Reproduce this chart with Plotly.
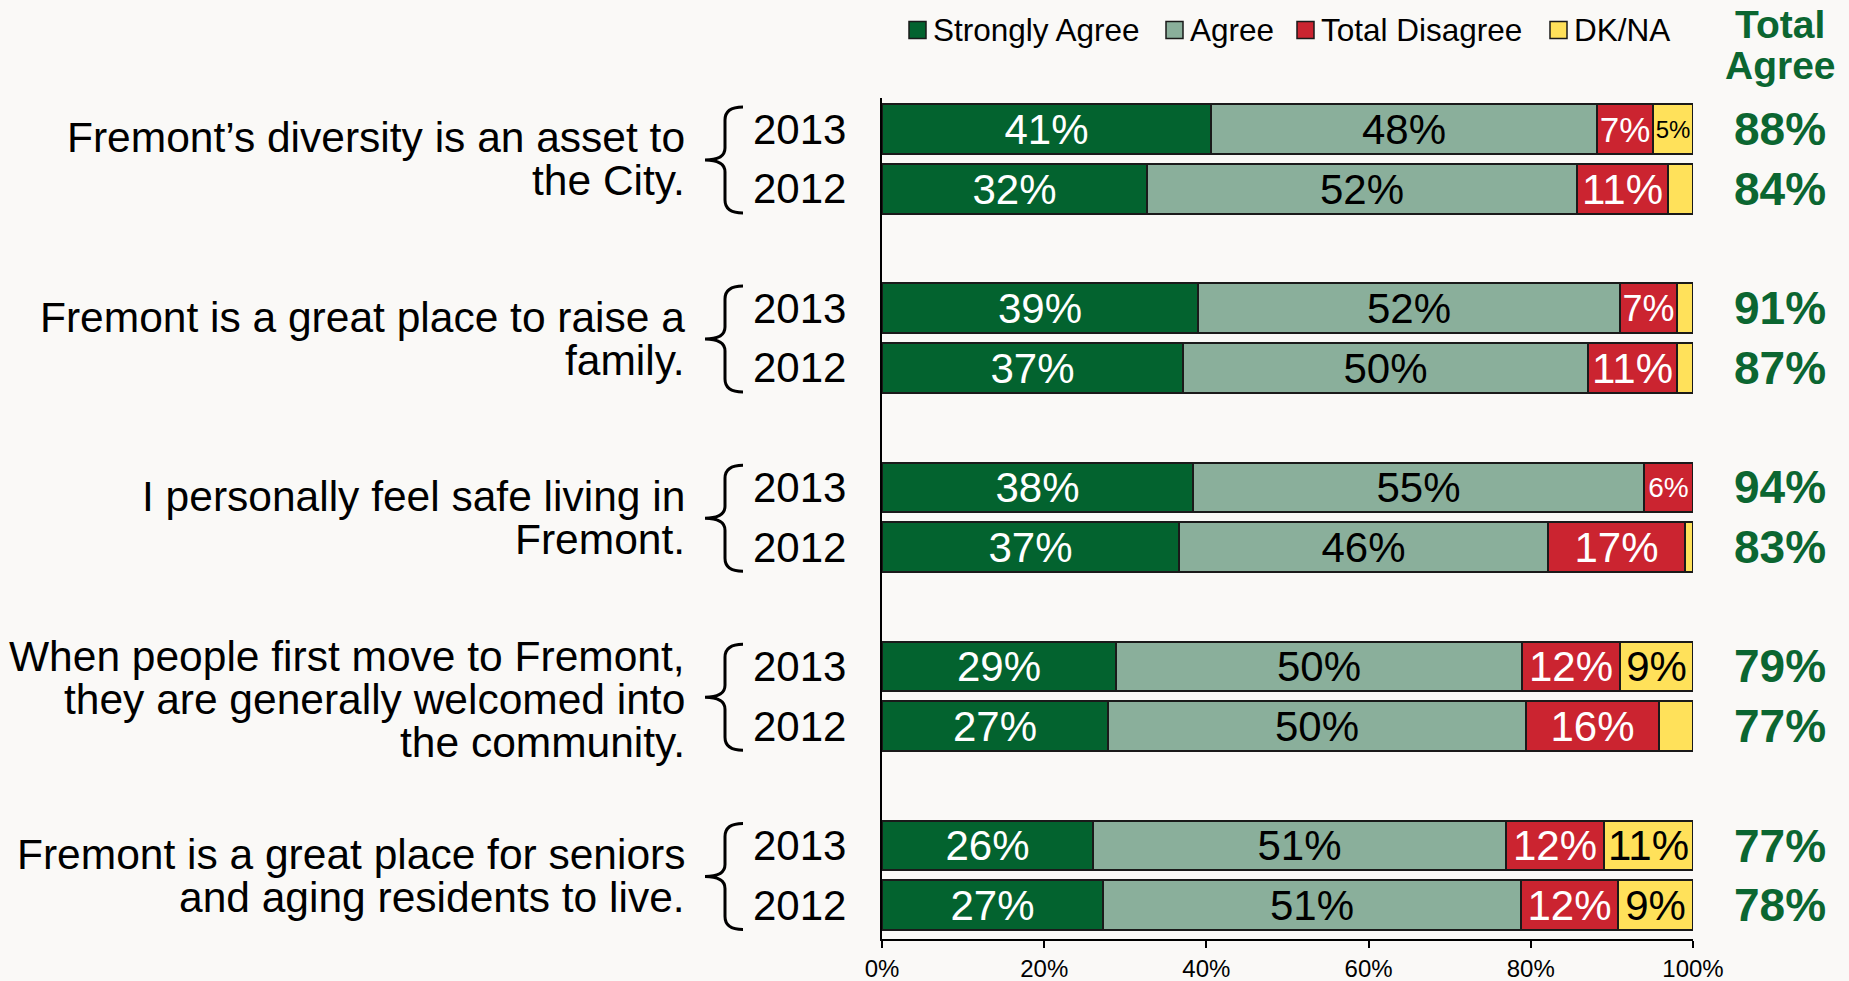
import plotly.graph_objects as go

# ---------------- data ----------------
questions = [
    ["Fremont’s diversity is an asset to", "the City."],
    ["Fremont is a great place to raise a", "family."],
    ["I personally feel safe living in", "Fremont."],
    ["When people first move to Fremont,", "they are generally welcomed into", "the community."],
    ["Fremont is a great place for seniors", "and aging residents to live."],
]
years = ["2013", "2012"]

strongly_agree = [40.6, 32.7, 39.0, 37.1, 38.4, 36.6, 28.9, 27.9, 26.0, 27.2]
agree = [47.6, 53.0, 52.0, 50.0, 55.5, 45.5, 50.0, 51.5, 50.9, 51.6]
total_disagree = [6.9, 11.2, 7.0, 10.9, 6.1, 16.9, 12.1, 16.4, 12.1, 12.0]
dk_na = [4.9, 3.1, 2.0, 2.0, 0.0, 1.0, 9.0, 4.2, 11.0, 9.2]

sa_labels = ["41%", "32%", "39%", "37%", "38%", "37%", "29%", "27%", "26%", "27%"]
agree_labels = ["48%", "52%", "52%", "50%", "55%", "46%", "50%", "50%", "51%", "51%"]
disagree_labels = ["7%", "11%", "7%", "11%", "6%", "17%", "12%", "16%", "12%", "12%"]
dk_labels = ["5%", "", "", "", "", "", "9%", "", "11%", "9%"]
total_agree = ["88%", "84%", "91%", "87%", "94%", "83%", "79%", "77%", "77%", "78%"]

series_names = ["Strongly Agree", "Agree", "Total Disagree", "DK/NA"]
tick_vals = [0, 20, 40, 60, 80, 100]
tick_text = ["0%", "20%", "40%", "60%", "80%", "100%"]

# ---------------- styling / layout ----------------
W, H = 1849, 981
L, R, T, B = 882, 156, 98, 42
Y_RANGE = [13.565, -0.52]
X_RANGE = [0, 100.002]
FONT = "Liberation Sans"
BG = "#faf9f7"
COLORS = ["#03632f", "#8aaf9b", "#cb2430", "#ffe15a"]
TEXT_COLORS = ["white", "black", "white", "black"]
GREEN_TXT = "#0b6631"

n_rows = len(strongly_agree)
y_pos = [3 * (i // 2) + (i % 2) for i in range(n_rows)]
row_years = [years[i % 2] for i in range(n_rows)]

label_sizes = [
    [42] * n_rows,
    [42] * n_rows,
    [35, 42, 36, 42, 28, 42, 42, 42, 42, 42],
    [24, 42, 42, 42, 42, 42, 42, 42, 42, 42],
]

def paper_x(px):
    return (px - L) / (W - L - R)

def paper_y(py):
    return 1 - (py - T) / (H - T - B)

def pix_y(yv):
    return T + (yv - Y_RANGE[1]) / (Y_RANGE[0] - Y_RANGE[1]) * (H - T - B)

fig = go.Figure()
for k, (vals, labs) in enumerate(zip(
        [strongly_agree, agree, total_disagree, dk_na],
        [sa_labels, agree_labels, disagree_labels, dk_labels])):
    fig.add_trace(go.Bar(
        x=vals, y=y_pos, orientation="h", name=series_names[k],
        width=0.83,
        marker=dict(color=COLORS[k], line=dict(color="#1a1a1a", width=2)),
        text=labs, textposition="inside", insidetextanchor="middle",
        textangle=0, constraintext="none",
        textfont=dict(family=FONT, size=label_sizes[k], color=TEXT_COLORS[k]),
        hoverinfo="skip", showlegend=False, cliponaxis=False,
    ))

annotations = []
shapes = []

# year labels and total agree values
for i in range(n_rows):
    annotations.append(dict(
        x=paper_x(751), xref="paper", y=y_pos[i], yref="y",
        text=row_years[i], showarrow=False, xanchor="left", yanchor="middle",
        font=dict(family=FONT, size=42, color="black")))
    annotations.append(dict(
        x=paper_x(1780), xref="paper", y=y_pos[i], yref="y",
        text="<b>" + total_agree[i] + "</b>", showarrow=False,
        xanchor="center", yanchor="middle",
        font=dict(family=FONT, size=46, color=GREEN_TXT)))

# question text and braces
for g, lines in enumerate(questions):
    yc = 3 * g + 0.5
    n = len(lines)
    if n == 2:
        offs = [-21, 22]
    else:
        offs = [-40, 3, 46]
    for line, off in zip(lines, offs):
        annotations.append(dict(
            x=paper_x(687), xref="paper", y=yc, yref="y", yshift=-off,
            text=line, showarrow=False, xanchor="right", yanchor="middle",
            font=dict(family=FONT, size=42.5, color="black")))
    c = pix_y(yc)
    top, bot, mid = c - 52, c + 54, c + 1
    xr, xv, xp = 743, 725, 705
    pts = [
        ("M", xr, top), ("Q", xv, top), ("", xv, top + 13),
        ("L", xv, mid - 12), ("Q", xv, mid), ("", xp, mid),
        ("Q", xv, mid), ("", xv, mid + 12),
        ("L", xv, bot - 13), ("Q", xv, bot), ("", xr, bot),
    ]
    path = " ".join(f"{cmd}{paper_x(px):.5f},{paper_y(py):.5f}" if cmd else f"{paper_x(px):.5f},{paper_y(py):.5f}"
                    for cmd, px, py in pts)
    shapes.append(dict(type="path", path=path, xref="paper", yref="paper",
                       line=dict(color="black", width=3)))

# manual legend
legend_x = [909, 1166, 1297, 1550]
for k, name in enumerate(series_names):
    x0 = legend_x[k]
    shapes.append(dict(type="rect", xref="paper", yref="paper",
                       x0=paper_x(x0), x1=paper_x(x0 + 17),
                       y0=paper_y(21.5), y1=paper_y(38.5),
                       fillcolor=COLORS[k], line=dict(color="#1a1a1a", width=1.5)))
    annotations.append(dict(
        x=paper_x(x0 + 22), xref="paper", y=paper_y(30), yref="paper",
        text=name, showarrow=False, xanchor="left", yanchor="middle",
        font=dict(family=FONT, size=31.5, color="black")))

# Total Agree header
for txt, py in [("Total", 24), ("Agree", 65)]:
    annotations.append(dict(
        x=paper_x(1780), xref="paper", y=paper_y(py), yref="paper",
        text="<b>" + txt + "</b>", showarrow=False, xanchor="center", yanchor="middle",
        font=dict(family=FONT, size=39, color=GREEN_TXT)))

fig.update_layout(
    width=W, height=H, barmode="stack", bargap=0,
    margin=dict(l=L, r=R, t=T, b=B, pad=0, autoexpand=False),
    paper_bgcolor=BG, plot_bgcolor=BG,
    font=dict(family=FONT, color="black"),
    annotations=annotations, shapes=shapes, showlegend=False,
    xaxis=dict(range=X_RANGE, tickmode="array", tickvals=tick_vals, ticktext=tick_text,
               ticks="outside", ticklen=7, tickwidth=2, tickcolor="black",
               showline=True, linecolor="black", linewidth=2,
               showgrid=False, zeroline=False, automargin=False,
               tickfont=dict(family=FONT, size=24, color="black")),
    yaxis=dict(range=Y_RANGE, showticklabels=False, ticks="",
               showline=True, linecolor="black", linewidth=2,
               showgrid=False, zeroline=False, automargin=False),
)

fig.write_html("out.html", config={"displayModeBar": False},
               post_script="document.body.style.margin='0';document.body.style.overflow='hidden';")
